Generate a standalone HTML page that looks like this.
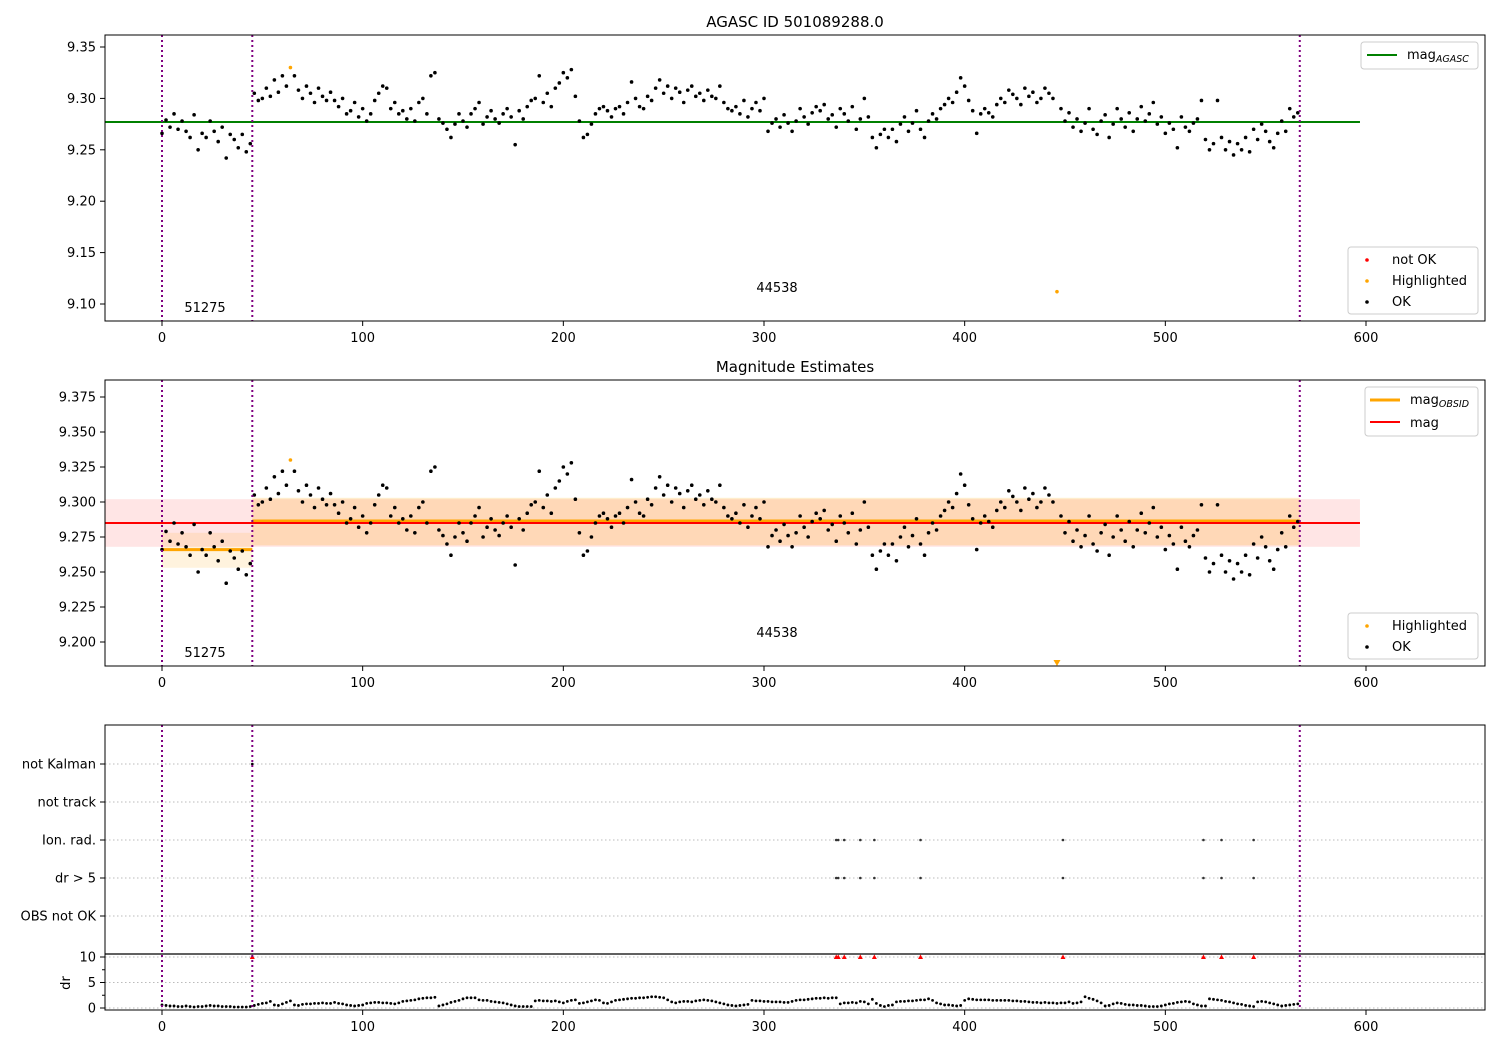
<!DOCTYPE html>
<html><head><meta charset="utf-8"><style>
body{margin:0;background:#fff}
svg{display:block;font-family:"DejaVu Sans","Liberation Sans",sans-serif}
</style></head><body>
<svg id="chart" width="1500" height="1050" xmlns="http://www.w3.org/2000/svg"></svg>
<script>
// ---------- data ----------
const magStep = 2;
const magValues = [
9.266,9.279,9.272,9.285,9.270,9.278,9.268,9.262,9.284,9.250,
9.266,9.262,9.278,9.268,9.258,9.272,9.242,9.265,9.260,9.252,
9.265,9.248,9.256,
9.305,9.298,9.300,9.310,9.302,9.318,9.306,9.322,9.312,9.330,
9.322,9.308,9.300,9.312,9.305,9.296,9.310,9.302,9.298,9.306,
9.298,9.292,9.300,9.285,9.288,9.296,9.282,9.290,9.278,9.285,
9.298,9.305,9.312,9.310,9.290,9.296,9.285,9.288,9.280,9.290,
9.278,9.296,9.300,9.285,9.322,9.325,9.280,9.276,9.270,9.262,
9.275,9.285,9.278,9.272,9.285,9.290,9.296,9.275,9.282,9.288,
9.280,9.276,9.285,9.290,9.282,9.255,9.288,9.280,9.292,9.298,
9.300,9.322,9.296,9.305,9.292,9.310,9.315,9.325,9.320,9.328,
9.302,9.278,9.262,9.265,9.275,9.285,9.290,9.292,9.288,9.282,
9.290,9.292,9.285,9.296,9.316,9.300,9.292,9.290,9.302,9.298,
9.310,9.318,9.305,9.312,9.300,9.310,9.306,9.296,9.308,9.312,
9.302,9.305,9.298,9.308,9.302,9.300,9.312,9.296,9.290,9.288,
9.292,9.285,9.298,9.282,9.290,9.296,9.288,9.300,9.268,9.276,
9.280,9.272,9.284,9.276,9.268,9.278,9.290,9.282,9.275,9.286,
9.292,9.288,9.294,9.280,9.284,9.272,9.290,9.285,9.278,9.292,
9.270,9.280,9.300,9.282,9.262,9.252,9.265,9.270,9.262,9.270,
9.258,9.275,9.282,9.268,9.276,9.288,9.270,9.262,9.278,9.285,
9.280,9.290,9.294,9.300,9.296,9.306,9.320,9.312,9.298,9.288,
9.266,9.285,9.290,9.286,9.282,9.294,9.300,9.296,9.308,9.304,
9.300,9.294,9.310,9.302,9.306,9.296,9.300,9.310,9.305,9.300,
9.112,9.290,9.278,9.286,9.272,9.280,9.268,9.276,9.290,9.270,
9.265,9.278,9.284,9.262,9.275,9.290,9.280,9.272,9.286,9.268,
9.280,9.292,9.278,9.285,9.296,9.275,9.282,9.266,9.276,9.270,
9.252,9.282,9.272,9.268,9.276,9.280,9.298,9.260,9.250,9.256,
9.298,9.262,9.250,9.258,9.245,9.256,9.250,9.262,9.248,9.270,
9.260,9.275,9.268,9.258,9.252,9.266,9.278,9.268,9.290,9.282,
9.286];
const highlightedX = [64, 446];
const drValues = [
.6,.5,.4,.4,.3,.3,.4,.3,.2,.3,.3,.4,.5,.4,.4,.3,.3,.3,.2,.2,.2,.2,.3,
.5,.7,.9,1.0,1.3,.6,.5,.8,1.1,1.4,
.6,.5,.7,.8,.8,.9,.9,1.0,.9,.9,
1.1,.9,.8,.6,.5,.4,.5,.6,.9,1.0,
1.1,1.1,1.0,1.0,.9,.8,1.0,1.3,1.4,1.5,
1.6,1.8,1.9,2.0,2.0,2.1,.4,.6,.8,1.1,
1.3,1.5,1.8,2.0,2.0,2.0,1.6,1.5,1.5,1.3,
1.2,1.1,1.0,.8,.6,.4,.3,.3,.3,.3,
1.4,1.5,1.4,1.4,1.3,1.4,1.2,1.0,1.3,1.5,
1.6,.9,1.0,1.2,1.4,1.6,1.5,1.0,.9,1.2,
1.5,1.6,1.7,1.8,1.9,1.9,2.0,2.0,2.1,2.2,
2.2,2.1,2.0,1.6,1.2,1.0,1.2,1.3,1.3,1.2,
1.4,1.5,1.6,1.5,1.4,1.2,1.0,.8,.6,.5,
.4,.5,.6,.7,1.5,1.4,1.4,1.3,1.3,1.2,
1.2,1.2,1.1,1.1,1.3,1.5,1.6,1.6,1.7,1.8,
1.9,1.9,2.0,1.9,2.0,2.0,.8,1.0,1.0,1.1,
1.0,1.3,1.2,.8,1.7,.9,.5,.3,.5,.6,
1.2,1.3,1.3,1.4,1.4,1.5,1.6,1.6,1.8,1.5,
1.0,.8,.6,.6,.5,.4,.5,1.5,1.8,1.7,
1.6,1.6,1.6,1.6,1.5,1.5,1.5,1.5,1.5,1.4,
1.4,1.3,1.3,1.2,1.1,1.1,1.0,1.1,1.0,1.0,
.9,1.0,1.0,1.2,.9,1.0,1.2,2.2,1.9,1.7,
1.4,1.0,.4,.5,.8,1.0,.9,.7,.6,.6,
.5,.5,.4,.3,.3,.3,.4,.6,.8,.9,
1.1,1.2,1.3,1.2,.8,.6,.4,.4,1.8,1.7,
1.6,1.5,1.3,1.2,1.0,.8,.7,.5,.4,.3,
1.2,1.3,1.2,1.0,.8,.6,.4,.5,.6,.7,
.8];
const obsBoundaries = [0, 45, 567];
const obsLabels = ["51275", "44538"];
const magAgasc = 9.277;
const magMean = 9.285, magMeanLo = 9.268, magMeanHi = 9.302;
const obsStart = [0, 45], obsEnd = [45, 567];
const obsMag = [9.266, 9.2864], obsLo = [9.253, 9.269], obsHi = [9.278, 9.303];
const flagCategories = ["not Kalman","not track","Ion. rad.","dr > 5","OBS not OK"];
const notKalmanX = [45];
const ionRadX = [336,337,340,348,355,378,449,519,528,544];
const drBigX = [336,337,340,348,355,378,449,519,528,544];
const drRedX = [45,336,337,340,348,355,378,449,519,528,544];
const xTicks = [0,100,200,300,400,500,600];
const y1Ticks = [9.10,9.15,9.20,9.25,9.30,9.35];
const y2Ticks = [9.200,9.225,9.250,9.275,9.300,9.325,9.350,9.375];
const drTicks = [0,5,10];

// ---------- helpers ----------
const svg = document.getElementById('chart');
const NS = 'http://www.w3.org/2000/svg';
function el(tag, attrs, parent){const e=document.createElementNS(NS,tag);for(const k in attrs)e.setAttribute(k,attrs[k]);(parent||svg).appendChild(e);return e;}
const L=105,R=1485;
const xs = v => 162 + v*(1204/600);
const y1 = v => 47 + (9.35-v)*1028;
const y2 = v => 397 + (9.375-v)*1400;
const yc = c => 764 + c*38;
const yd = v => 1008 - v*5.1;
function txt(x,y,s,opt){const t=el('text',Object.assign({x:x,y:y,'font-size':13,fill:'#000'},opt||{}));t.textContent=s;return t;}
function subTxt(x,y,main,sub){const t=el('text',{x:x,y:y,'font-size':13,fill:'#000'});
  const a=document.createElementNS(NS,'tspan');a.textContent=main;t.appendChild(a);
  const b=document.createElementNS(NS,'tspan');b.setAttribute('dy','3');b.setAttribute('font-size','9.5');b.setAttribute('font-style','italic');b.textContent=sub;t.appendChild(b);
  return t;}

const defs=el('defs',{});
[['c1',35,321],['c2',380,666],['c3',725,1010]].forEach(a=>{const c=document.createElementNS(NS,'clipPath');c.setAttribute('id',a[0]);const r=document.createElementNS(NS,'rect');r.setAttribute('x',L);r.setAttribute('y',a[1]);r.setAttribute('width',R-L);r.setAttribute('height',a[2]-a[1]);c.appendChild(r);defs.appendChild(c);});

function xAxis(bot){
  xTicks.forEach(t=>{const x=xs(t);
    const tk=el('line',{x1:x,x2:x,y1:bot,y2:bot+5,stroke:'#000'});
    
    const lb=txt(x,bot+21,String(t),{'text-anchor':'middle'});
    });
}
function yAxis(ticks,ymap,fmt){
  ticks.forEach(t=>{const y=ymap(t);
    el('line',{x1:L-5,x2:L,y1:y,y2:y,stroke:'#000'});
    const lb=txt(L-9,y+4.5,fmt(t),{'text-anchor':'end'});
    });
}
function vlines(g,top,bot){
  obsBoundaries.forEach(b=>{const l=el('line',{x1:xs(b),x2:xs(b),y1:top,y2:bot,stroke:'#800080','stroke-width':2,'stroke-dasharray':'2,3'},g);
    });
}
function dots(g,ymap,skipOff){
  magValues.forEach((v,i)=>{const x=i*magStep;
    const hl=highlightedX.includes(x);
    let y=ymap(v);
    if(skipOff && y>666){
      const tx=xs(x);const p=el('path',{d:`M${tx-3.5},660 L${tx+3.5},660 L${tx},666 Z`,fill:'orange'},svg);
      return;}
    const c=el('circle',{cx:xs(x),cy:y,r:1.8,fill:hl?'orange':'#000'},g);
    
    
  });
}
function legend(x,y,w,h,name){const r=el('rect',{x:x,y:y,width:w,height:h,rx:3,fill:'#fff','fill-opacity':0.8,stroke:'#ccc'});return r;}

// ---------- panel 1 ----------
const g1=el('g',{'clip-path':'url(#c1)'});

const ag=el('line',{x1:L,x2:xs(597),y1:y1(magAgasc),y2:y1(magAgasc),stroke:'green','stroke-width':2},g1);

dots(g1,y1,false);
vlines(g1,35,321);
let t=txt(205,312,obsLabels[0],{'text-anchor':'middle'});
t=txt(777,292,obsLabels[1],{'text-anchor':'middle'});
el('rect',{x:L,y:35,width:R-L,height:286,fill:'none',stroke:'#000'});
xAxis(321);yAxis(y1Ticks,y1,v=>v.toFixed(2));
t=txt(795,27,'AGASC ID 501089288.0',{'text-anchor':'middle','font-size':15});
legend(1361,42,117,27,'agasc-legend');
el('line',{x1:1367,x2:1397,y1:55,y2:55,stroke:'green','stroke-width':2});
subTxt(1407,59,'mag','AGASC');
legend(1348,247,130,67,'status-legend');
el('circle',{cx:1367,cy:260,r:1.8,fill:'red'});txt(1392,264,'not OK');
el('circle',{cx:1367,cy:281,r:1.8,fill:'orange'});txt(1392,285,'Highlighted');
el('circle',{cx:1367,cy:302,r:1.8,fill:'#000'});txt(1392,306,'OK');

// ---------- panel 2 ----------
const g2=el('g',{'clip-path':'url(#c2)'});

let b=el('rect',{x:L,y:y2(magMeanHi),width:xs(597)-L,height:y2(magMeanLo)-y2(magMeanHi),fill:'red','fill-opacity':0.1},g2);

obsStart.forEach((s,i)=>{
  const r=el('rect',{x:xs(s),y:y2(obsHi[i]),width:xs(obsEnd[i])-xs(s),height:y2(obsLo[i])-y2(obsHi[i]),fill:'orange','fill-opacity':i===0?0.13:0.2},g2);
  
});
obsStart.forEach((s,i)=>{
  const l=el('line',{x1:xs(s),x2:xs(obsEnd[i]),y1:y2(obsMag[i]),y2:y2(obsMag[i]),stroke:'orange','stroke-width':3},g2);
  
});
const ml=el('line',{x1:L,x2:xs(597),y1:y2(magMean),y2:y2(magMean),stroke:'red','stroke-width':2},g2);

dots(g2,y2,true);
vlines(g2,380,666);
t=txt(205,657,obsLabels[0],{'text-anchor':'middle'});
t=txt(777,637,obsLabels[1],{'text-anchor':'middle'});
el('rect',{x:L,y:380,width:R-L,height:286,fill:'none',stroke:'#000'});
xAxis(666);yAxis(y2Ticks,y2,v=>v.toFixed(3));
t=txt(795,372,'Magnitude Estimates',{'text-anchor':'middle','font-size':15});
legend(1365,387,113,49,'mag-legend');
el('line',{x1:1370,x2:1400,y1:400,y2:400,stroke:'orange','stroke-width':3});
subTxt(1410,404,'mag','OBSID');
el('line',{x1:1370,x2:1400,y1:422,y2:422,stroke:'red','stroke-width':2});
txt(1410,427,'mag');
legend(1348,613,130,46,'status-legend-2');
el('circle',{cx:1367,cy:626,r:1.8,fill:'orange'});txt(1392,630,'Highlighted');
el('circle',{cx:1367,cy:647,r:1.8,fill:'#000'});txt(1392,651,'OK');

// ---------- panel 3 ----------
const g3=el('g',{'clip-path':'url(#c3)'});

flagCategories.forEach((c,i)=>{
  el('line',{x1:L,x2:R,y1:yc(i),y2:yc(i),stroke:'#bbb','stroke-dasharray':'1.5,2.5'},g3);
  el('line',{x1:L-5,x2:L,y1:yc(i),y2:yc(i),stroke:'#000'});
  const lb=txt(L-9,yc(i)+4.5,c,{'text-anchor':'end'});
});
drTicks.forEach(v=>{el('line',{x1:L,x2:R,y1:yd(v),y2:yd(v),stroke:'#bbb','stroke-dasharray':'1.5,2.5'},g3);});
[2.5,7.5].forEach(v=>el('line',{x1:L-3,x2:L,y1:yd(v),y2:yd(v),stroke:'#000'}));
yAxis(drTicks,yd,v=>String(v));
notKalmanX.forEach(x=>{const c=el('circle',{cx:xs(x),cy:yc(0),r:1.3,fill:'#000'},g3);});
ionRadX.forEach(x=>{const c=el('circle',{cx:xs(x),cy:yc(2),r:1.3,fill:'#333'},g3);});
drBigX.forEach(x=>{const c=el('circle',{cx:xs(x),cy:yc(3),r:1.3,fill:'#333'},g3);});
drValues.forEach((v,i)=>{const c=el('circle',{cx:xs(i*magStep),cy:yd(v),r:1.4,fill:'#000'},g3);});
drRedX.forEach(x=>{const p=el('path',{d:`M${xs(x)-2.5},${yd(10)+2} L${xs(x)+2.5},${yd(10)+2} L${xs(x)},${yd(10)-2.5} Z`,fill:'red'},g3);});
vlines(g3,725,1010);
el('line',{x1:L,x2:R,y1:954,y2:954,stroke:'#000','stroke-width':1.2});
el('rect',{x:L,y:725,width:R-L,height:285,fill:'none',stroke:'#000'});
xAxis(1010);
t=txt(70,983,'dr',{'text-anchor':'middle',transform:'rotate(-90 70 983)'});
</script>
</body></html>
